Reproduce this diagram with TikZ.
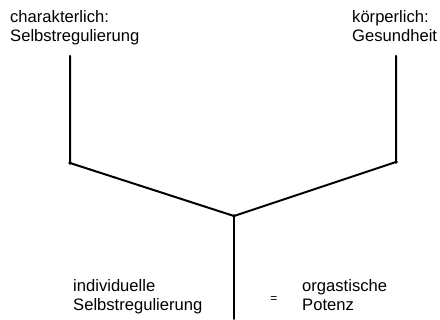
\documentclass[tikz,border=0pt]{standalone}
\usepackage{fontspec}
\setmainfont{Liberation Sans}
\usetikzlibrary{positioning}

\begin{document}
\begin{tikzpicture}[x=1pt,y=-1pt,
    lbl/.style={anchor=north west, inner sep=0pt, align=left, font=\fontsize{16.6}{19.5}\selectfont},
    stem/.style={line width=2pt, line join=round, line cap=round}]
    \useasboundingbox (0,0) rectangle (440,320);
    \node[lbl] (charakter) at (10,10) {charakterlich:\\Selbstregulierung};
    \node[lbl] (koerper) at (352,10) {körperlich:\\Gesundheit};
    \node[lbl] (individuell) at (73,279) {individuelle\\Selbstregulierung};
    \node[lbl] (orgastisch) at (302,279) {orgastische\\Potenz};
    \node[inner sep=0pt, font=\fontsize{12}{14}\selectfont] (gleich) at (274,300) {=};
    \coordinate (ltop) at (70,56);
    \coordinate (lknick) at (70,163);
    \coordinate (rtop) at (396,56);
    \coordinate (rknick) at (396,162);
    \coordinate (mitte) at (234,216);
    \coordinate (unten) at (234,319);
    \draw[stem] (ltop) -- (lknick) -- (mitte) -- (rknick) -- (rtop);
    \draw[stem] (mitte) -- (unten);
    \foreach \p in {lknick,mitte,rknick} \fill (\p) circle (1.8);
\end{tikzpicture}
\end{document}
